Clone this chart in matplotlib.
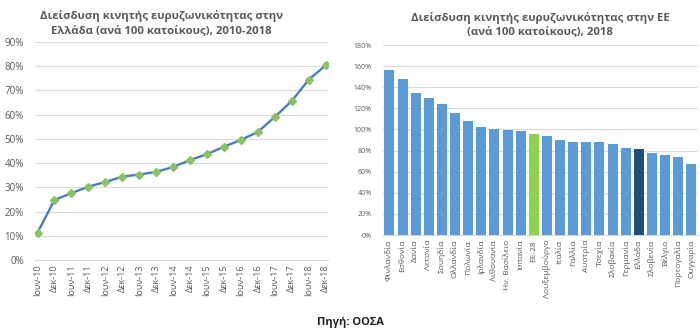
import matplotlib.pyplot as plt
import numpy as np
from matplotlib.ticker import PercentFormatter

plt.rcParams['font.family'] = ['Open Sans', 'DejaVu Sans']

# left chart: Greece over time
periods = ['Ιουν-10', 'Δεκ-10', 'Ιουν-11', 'Δεκ-11', 'Ιουν-12', 'Δεκ-12',
           'Ιουν-13', 'Δεκ-13', 'Ιουν-14', 'Δεκ-14', 'Ιουν-15', 'Δεκ-15',
           'Ιουν-16', 'Δεκ-16', 'Ιουν-17', 'Δεκ-17', 'Ιουν-18', 'Δεκ-18']
greece = [11.3, 24.8, 27.6, 30.3, 32.2, 34.4, 35.3, 36.4, 38.4,
          41.3, 43.7, 46.8, 49.6, 52.9, 59.1, 65.7, 74.5, 80.4]

# right chart: EU countries 2018
countries = ['Φινλανδία', 'Εσθονία', 'Δανία', 'Λετονία', 'Σουηδία', 'Ολλανδία',
             'Πολωνία', 'Ιρλανδία', 'Λιθουανία', 'Ην. Βασίλειο', 'Ισπανία', 'ΕΕ-28',
             'Λουξεμβούργο', 'Ιταλία', 'Γαλλία', 'Αυστρία', 'Τσεχία', 'Σλοβακία',
             'Γερμανία', 'Ελλάδα', 'Σλοβενία', 'Βέλγιο', 'Πορτογαλία', 'Ουγγαρία']
penetration = [156, 148, 135, 130, 124, 116, 108, 102.6, 100.4, 99.7, 98.2, 96,
               93.4, 90.3, 88.4, 88, 88, 85.9, 82.7, 81.1, 77.7, 76, 73.6, 67.2]

txt = '#595959'
grid = '#d9d9d9'

fig = plt.figure(figsize=(7, 3.31), dpi=100)

# ---- left
ax1 = fig.add_axes([0.05, 0.2145, 0.419, 0.6585])
x = np.arange(len(periods))
ax1.plot(x, greece, color='#4a7ebb', lw=1.7, marker='D', ms=4.5,
         mfc='#8cc168', mec='#8cc168', zorder=3)
ax1.set_ylim(0, 90)
ax1.set_xlim(-0.15, len(periods) - 0.85)
ax1.set_yticks(np.arange(0, 91, 10))
ax1.yaxis.set_major_formatter(PercentFormatter(decimals=0))
ax1.set_xticks(x)
ax1.set_xticklabels(periods, rotation=90)
ax1.grid(axis='y', color=grid, lw=0.8)
ax1.set_axisbelow(True)
for s in ['top', 'right', 'left']:
    ax1.spines[s].set_visible(False)
ax1.spines['bottom'].set_color(grid)
ax1.tick_params(axis='both', length=0, colors=txt)
ax1.tick_params(axis='y', pad=8, labelsize=7)
ax1.tick_params(axis='x', labelsize=6.5)
ax1.set_title('Διείσδυση κινητής ευρυζωνικότητας στην\nΕλλάδα (ανά 100 κατοίκους), 2010-2018',
              fontsize=8.2, fontweight='bold', color=txt, pad=6, x=0.43,
              linespacing=1.45)

# ---- right
ax2 = fig.add_axes([0.547, 0.29, 0.45, 0.574])
colors = ['#5b9bd5'] * len(countries)
colors[countries.index('ΕΕ-28')] = '#92d050'
colors[countries.index('Ελλάδα')] = '#1f4e79'
xb = np.arange(len(countries))
ax2.bar(xb, penetration, width=0.76, color=colors, zorder=3)
ax2.set_ylim(0, 180)
ax2.set_xlim(-0.5, len(countries) - 0.5)
ax2.set_yticks(np.arange(0, 181, 20))
ax2.yaxis.set_major_formatter(PercentFormatter(decimals=0))
ax2.set_xticks(xb)
ax2.set_xticklabels(countries, rotation=90)
ax2.grid(axis='y', color=grid, lw=0.8)
ax2.set_axisbelow(True)
for s in ['top', 'right', 'left']:
    ax2.spines[s].set_visible(False)
ax2.spines['bottom'].set_color(grid)
ax2.tick_params(axis='both', length=0, colors=txt)
ax2.tick_params(axis='y', labelsize=5, pad=8)
ax2.tick_params(axis='x', labelsize=6)
ax2.set_title('Διείσδυση κινητής ευρυζωνικότητας στην ΕΕ\n(ανά 100 κατοίκους), 2018',
              fontsize=8.2, fontweight='bold', color=txt, pad=8,
              linespacing=1.3)

fig.text(0.5, 0.01, 'Πηγή: ΟΟΣΑ', ha='center', va='bottom', fontsize=8,
         fontweight='bold', color='#222222')

fig.savefig('out.png', dpi=100, facecolor='white')
